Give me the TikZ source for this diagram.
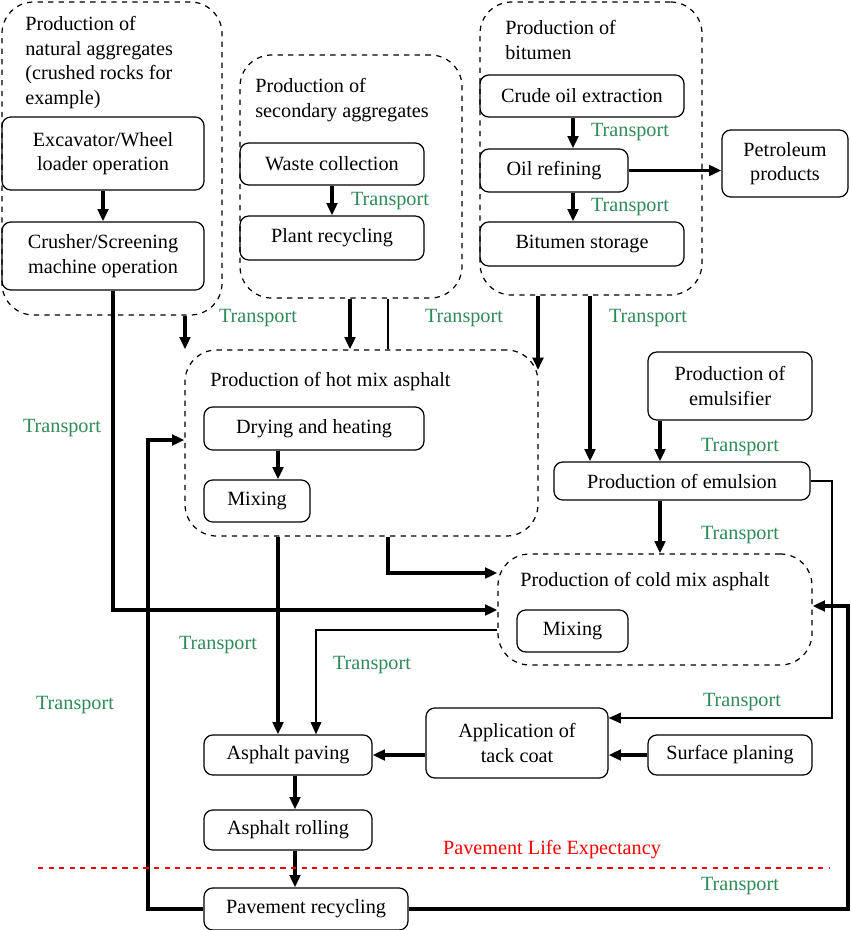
\documentclass[tikz,border=0pt]{standalone}
\usepackage{fontspec}
\setmainfont{Liberation Serif}
\usetikzlibrary{arrows.meta}
\definecolor{trgreen}{RGB}{46,139,87}
\tikzset{
  box/.style={draw,rounded corners=5pt,inner sep=0pt,align=center,line width=0.7pt},
  grp/.style={draw,dashed,rounded corners=18pt,inner sep=0pt,line width=0.7pt},
  lbl/.style={anchor=north west,align=left,inner sep=0pt},
  tr/.style={text=trgreen,inner sep=0pt},
  arr/.style={-{Triangle[length=7pt,width=6pt]},line width=1.9pt},
  tarr/.style={-{Triangle[length=7pt,width=6pt]},line width=0.9pt},
}
% box from corners (pixels)
\newcommand\pbox[7][box]{\node[#1,minimum width={(#5-#3)*0.02cm},minimum height={(#6-#4)*0.02cm}] (#2) at ({(#3+#5)/2},{(#4+#6)/2}) {#7};}
\begin{document}
\begin{tikzpicture}[x=0.02cm,y=-0.02cm,font=\fontsize{11.5}{14}\selectfont]
    \useasboundingbox (0,0) rectangle (850,930);
    % groups
    \pbox[grp]{natural}{2}{2}{222}{315}{}
    \pbox[grp]{secondary}{240}{55}{462}{298}{}
    \pbox[grp]{bitumen}{480}{2}{702}{295}{}
    \pbox[grp]{hotmix}{185}{350}{538}{536}{}
    \pbox[grp]{coldmix}{498}{554}{812}{665}{}
    \node[lbl] at (25,16) {Production of\\natural aggregates\\(crushed rocks for\\example)};
    \node[lbl] at (255,78) {Production of\\secondary aggregates};
    \node[lbl] at (505,20) {Production of\\bitumen};
    \node[lbl] at (210,372) {Production of hot mix asphalt};
    \node[lbl] at (520,572) {Production of cold mix asphalt};
    % boxes
    \pbox{excavator}{2}{117}{204}{190}{Excavator/Wheel\\loader operation}
    \pbox{crusher}{2}{222}{204}{290}{Crusher/Screening\\machine operation}
    \pbox{waste}{240}{143}{424}{185}{Waste collection}
    \pbox{plant}{240}{216}{424}{260}{Plant recycling}
    \pbox{crude}{480}{75}{684}{117}{Crude oil extraction}
    \pbox{refining}{480}{149}{628}{192}{Oil refining}
    \pbox{storage}{480}{222}{684}{266}{Bitumen storage}
    \pbox{petroleum}{722}{130}{848}{197}{Petroleum\\products}
    \pbox{drying}{204}{407}{424}{450}{Drying and heating}
    \pbox{hotmixing}{204}{480}{310}{522}{Mixing}
    \pbox{emulsifier}{648}{352}{812}{420}{Production of\\emulsifier}
    \pbox{emulsion}{554}{462}{810}{500}{Production of emulsion}
    \pbox{coldmixing}{517}{610}{628}{652}{Mixing}
    \pbox{tack}{426}{708}{608}{778}{Application of\\tack coat}
    \pbox{planing}{648}{735}{812}{775}{Surface planing}
    \pbox{paving}{204}{735}{372}{775}{Asphalt paving}
    \pbox{rolling}{204}{810}{372}{850}{Asphalt rolling}
    \pbox{recycling}{204}{888}{408}{930}{Pavement recycling}
    % inner arrows
    \draw[arr] (excavator.south) -- (crusher.north);
    \draw[arr] (waste.south) -- (plant.north);
    \draw[arr] (crude.south -| 573,0) -- (refining.north -| 573,0);
    \draw[arr] (refining.south -| 573,0) -- (storage.north -| 573,0);
    \draw[arr] (refining.east) -- (petroleum.west |- refining.east);
    \draw[arr] (drying.south -| 278,0) -- (hotmixing.north -| 278,0);
    % between groups
    \draw[arr] (natural.south -| 185,0) -- (hotmix.north -| 185,0);
    \draw[arr] (crusher.south -| 113,0) -- (113,610) -- (coldmix.west |- 0,610);
    \draw[arr] (secondary.south -| 350,0) -- (hotmix.north -| 350,0);
    \draw[line width=0.9pt] (secondary.south -| 388,0) -- (hotmix.north -| 388,0);
    \draw[arr] (hotmix.south -| 388,0) -- (388,573) -- (coldmix.west |- 0,573);
    \draw[arr] (bitumen.south -| 538,0) -- (538,370);
    \draw[arr] (bitumen.south -| 590,0) -- (emulsion.north -| 590,0);
    \draw[arr] (emulsifier.south -| 660,0) -- (emulsion.north -| 660,0);
    \draw[arr] (emulsion.south -| 660,0) -- (coldmix.north -| 660,0);
    \draw[tarr] (emulsion.east) -- (832,481) -- (832,718) -- (tack.east |- 0,718);
    \draw[arr] (hotmix.south -| 278,0) -- (paving.north -| 278,0);
    \draw[tarr] (coldmix.west |- 0,630) -- (316,630) -- (paving.north -| 316,0);
    \draw[arr] (tack.west |- paving.east) -- (paving.east);
    \draw[arr] (planing.west) -- (tack.east |- planing.west);
    \draw[arr] (paving.south -| 295,0) -- (rolling.north -| 295,0);
    \draw[arr] (rolling.south -| 295,0) -- (recycling.north -| 295,0);
    \draw[arr] (recycling.west) -- (148,909) -- (148,440) -- (hotmix.west |- 0,440);
    \draw[arr] (recycling.east) -- (848,909) -- (848,606) -- (coldmix.east |- 0,606);
    % life expectancy
    \draw[red,dashed,line width=0.8pt] (38,868) coordinate (l1) -- (830,868) coordinate (l2);
    \node[text=red,inner sep=0pt] (life) at (552,850) {Pavement Life Expectancy};
    % transport labels
    \foreach \x/\y in {390/201,630/132,630/207,258/318,464/318,648/318,62/428,740/447,740/535,218/645,372/665,75/705,742/702,740/886}
        \node[tr] at (\x,\y) {Transport};
\end{tikzpicture}
\end{document}
